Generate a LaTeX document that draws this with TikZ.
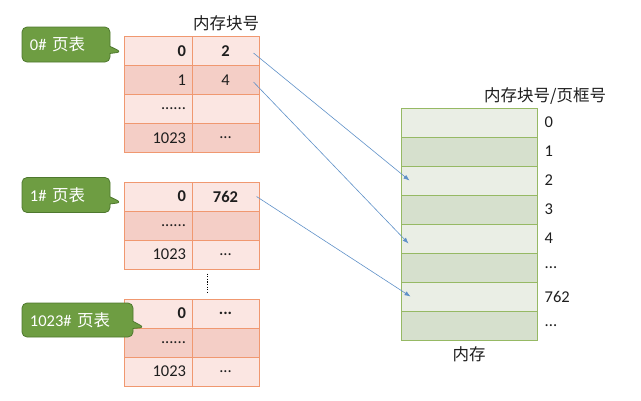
\documentclass[tikz,border=0pt]{standalone}
\usepackage{fontspec}
\setmainfont{Carlito}
\newfontfamily\cjk{Noto Sans CJK SC}
\usepackage{xcolor}
\usetikzlibrary{calc,arrows.meta,positioning,shapes.callouts}
\definecolor{ptLight}{RGB}{251,230,226}
\definecolor{ptDark}{RGB}{244,206,198}
\definecolor{ptLine}{RGB}{240,152,112}
\definecolor{memLight}{RGB}{234,238,229}
\definecolor{memDark}{RGB}{214,224,205}
\definecolor{memLine}{RGB}{150,185,100}
\definecolor{tagGreen}{RGB}{110,157,66}
\definecolor{tagGreenDark}{RGB}{78,120,46}
\definecolor{linkBlue}{RGB}{95,145,200}
\definecolor{txtGray}{RGB}{30,30,30}
\newcommand{\dotsix}{......}
\newcommand{\dotthree}{...}

\begin{document}
\begin{tikzpicture}[x=1pt,y=-1pt,
    every node/.style={font=\fontsize{16.5}{19}\selectfont, text=txtGray},
    cellL/.style={draw=ptLine, line width=1pt, minimum height=29pt, inner xsep=6pt,
        text width=56pt, align=right},
    cellR/.style={draw=ptLine, line width=1pt, minimum height=29pt, inner xsep=0pt,
        text width=67pt, align=center},
    memcell/.style={draw=memLine, line width=1pt, minimum width=136pt, minimum height=29pt},
    tag/.style={rectangle callout, rounded corners=5pt, fill=tagGreen, draw=tagGreenDark,
        line width=0.8pt, text=white, align=left, inner xsep=8pt, minimum height=35pt},
    link/.style={linkBlue, line width=0.6pt, -{Latex[length=6pt,width=4.5pt]}}]

    \useasboundingbox (0,0) rectangle (641,400);

    % =========================
    % page table 0#
    % =========================
    \foreach \i/\pg/\blk/\shade in {0/{\bfseries 0}/{\bfseries 2}/ptLight,
            1/1/4/ptDark, 2/\dotsix/{}/ptLight, 3/1023/\dotthree/ptDark} {
        \node[cellL, fill=\shade] (p0-\i-a) at (158,{51+29*\i}) {\pg};
        \node[cellR, fill=\shade] (p0-\i-b) at (225.5,{51+29*\i}) {\blk};
    }
    \node (blkTitle) at (226,23) {\cjk 内存块号};

    % =========================
    % page table 1#
    % =========================
    \foreach \i/\pg/\blk/\shade in {0/{\bfseries 0}/{\bfseries 762}/ptLight,
            1/\dotsix/{}/ptDark, 2/1023/\dotthree/ptLight} {
        \node[cellL, fill=\shade] (p1-\i-a) at (158,{196.5+29*\i}) {\pg};
        \node[cellR, fill=\shade] (p1-\i-b) at (225.5,{196.5+29*\i}) {\blk};
    }

    % =========================
    % page table 1023#
    % =========================
    \foreach \i/\pg/\blk/\shade in {0/{\bfseries 0}/{\bfseries\dotthree}/ptLight,
            1/\dotsix/{}/ptDark, 2/1023/\dotthree/ptLight} {
        \node[cellL, fill=\shade] (p2-\i-a) at (158,{313.5+29*\i}) {\pg};
        \node[cellR, fill=\shade] (p2-\i-b) at (225.5,{313.5+29*\i}) {\blk};
    }

    % dots between the tables
    \coordinate (gapTop) at ($(p1-2-a.south east)+(15,4)$);
    \coordinate (gapBot) at ($(p2-0-a.north east)+(15,-5)$);
    \draw[line width=1.3pt, dash pattern=on 1.3pt off 1.3pt] (gapTop) -- (gapBot);

    % callouts
    \node[tag, text width=72pt, callout absolute pointer={($(p0-0-a.west)+(-2,1)$)}]
        (tag0) at (66,44.5) {0\# {\cjk 页表}};
    \node[tag, text width=72pt, callout absolute pointer={($(p1-0-a.west)+(-2,6)$)}]
        (tag1) at (66,195) {1\# {\cjk 页表}};
    \node[tag, text width=95pt, minimum height=34pt,
        callout absolute pointer={($(p2-1-a.west)+(21,-15)$)}]
        (tag2) at (77.5,320) {1023\# {\cjk 页表}};

    % =========================
    % memory
    % =========================
    \foreach \i/\lbl/\shade in {0/0/memLight, 1/1/memDark, 2/2/memLight, 3/3/memDark,
            4/4/memLight, 5/\dotthree/memDark, 6/762/memLight, 7/\dotthree/memDark} {
        \node[memcell, fill=\shade] (mem\i) at (469,{122.5+29*\i}) {};
        \node[anchor=west, inner sep=0pt] (num\i) at ([xshift=7pt]mem\i.east) {\lbl};
    }
    \node[anchor=west, inner sep=0pt] (memTitle) at (484,96) {\cjk 内存块号/页框号};
    \node (memName) at (469,354) {\cjk 内存};

    % page table entries -> frames
    \draw[link] ([xshift=-6pt,yshift=-2pt]p0-0-b.east) -- ([xshift=9pt]mem2.west);
    \draw[link] ([xshift=-6pt,yshift=-2pt]p0-1-b.east) -- ([xshift=8pt,yshift=-5pt]mem4.west);
    \draw[link] ([xshift=-3pt]p1-0-b.east) -- ([xshift=10pt]mem6.west);

\end{tikzpicture}
\end{document}
